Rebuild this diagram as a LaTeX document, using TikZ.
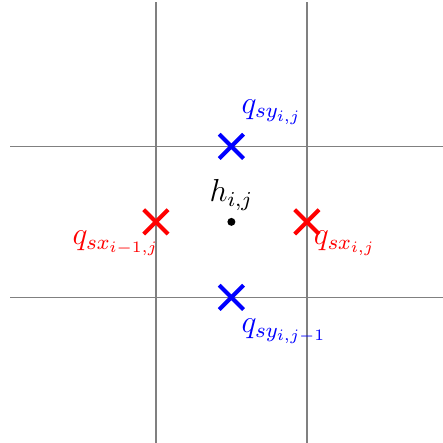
\documentclass[tikz,border=0pt]{standalone}
\usetikzlibrary{shapes.misc}
\tikzset{
  gridline/.style={black!50,line width=.5pt},
  xmark/.style={cross out,draw,line width=1.5pt,minimum size=.27cm,inner sep=0pt},
  cellpt/.style={circle,fill=black,inner sep=0pt,minimum size=3pt},
}
\begin{document}
\begin{tikzpicture}[font=\large]
\useasboundingbox (-3.066,-2.93) rectangle (2.80,2.94);
% grid
\draw[gridline] (-1,-2.93) -- (-1,2.91);
\draw[gridline] (1,-2.93) -- (1,2.91);
\draw[gridline] (-2.93,1) -- (2.80,1);
\draw[gridline] (-2.93,-1) -- (2.80,-1);
% cell centre
\node[cellpt] (h) at (0,0) {};
\node[anchor=south] (hlab) at (0,.03) {$h_{i,j}$};
% fluxes in x
\node[xmark,red] (qsxl) at (-1,0) {};
\node[xmark,red] (qsxr) at (1,0) {};
\node[anchor=north east,text=red] (qsxllab) at (-.83,0) {$q_{sx_{i-1,j}}$};
\node[anchor=north west,text=red] (qsxrlab) at (.97,0) {$q_{sx_{i,j}}$};
% fluxes in y
\node[xmark,blue] (qsyt) at (0,1) {};
\node[xmark,blue] (qsyb) at (0,-1) {};
\node[anchor=south west,text=blue] (qsytlab) at (.01,1.17) {$q_{sy_{i,j}}$};
\node[anchor=north west,text=blue] (qsyblab) at (.01,-1.16) {$q_{sy_{i,j-1}}$};
\end{tikzpicture}
\end{document}
